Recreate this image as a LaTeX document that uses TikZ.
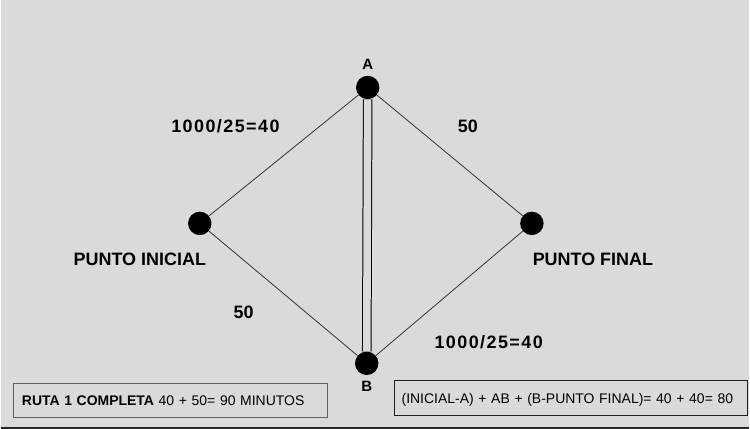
\documentclass[tikz,border=0pt]{standalone}
\usepackage{fontspec}
\setmainfont{Liberation Sans}
\usetikzlibrary{calc,positioning}
\definecolor{fondo}{HTML}{DADADA}
\definecolor{linea}{HTML}{333333}

\begin{document}
\begin{tikzpicture}[x=1pt,y=-1pt,
    vdot/.style={circle, fill=black, minimum size=23.5pt, inner sep=0pt},
    etiq/.style={anchor=base, font=\fontsize{18}{21}\selectfont\bfseries, inner sep=0pt},
    frac/.style={etiq, font=\fontsize{18}{21}\selectfont\bfseries\addfontfeature{LetterSpace=8}},
    letra/.style={anchor=base, font=\fontsize{15}{18}\selectfont\bfseries, inner sep=0pt},
    caja/.style={draw, line width=1pt, minimum height=34pt, inner ysep=0pt,
      align=left, text height=10pt, text depth=0pt,
      font=\fontsize{14}{17}\selectfont},
    arista/.style={draw=linea, line width=0.8pt}]
    \fill[fondo] (0,0) rectangle (750,430);

    % puntos
    \node[vdot] (a) at (367.7,87.7) {};
    \node[vdot] (b) at ($(a)+(-1,276.6)$) {};
    \node[vdot] (ini) at ($(a)+(-168.4,136.3)$) {};
    \node[vdot] (fin) at ($(a)+(164.6,136.3)$) {};

    \node[letra] (la) at ($(a)+(0,-17.7)$) {A};
    \node[letra] (lb) at ($(b)+(0,28.2)$) {B};
    \node[etiq] (lini) at ($(ini)+(-60.1,42)$) {PUNTO INICIAL};
    \node[etiq] (lfin) at ($(fin)+(61.2,42)$) {PUNTO FINAL};

    % pesos
    \node[frac] (p1) at (225,132.7) {1000/25=40};
    \node[etiq] (p2) at (468,132.7) {50};
    \node[etiq] (p3) at (243.3,319.3) {50};
    \node[frac] (p4) at (489,349) {1000/25=40};

    \path[arista] (ini) -- (a) -- (fin);
    \path[arista] (ini) -- (b) -- (fin);
    \draw[line width=1pt, double=fondo, double distance=7.6pt] (a) -- (b);

    % resultados
    \node[caja, draw=black!62, text width=298pt, inner xsep=8pt] (r1) at (170,402)
      {\textbf{RUTA 1 COMPLETA} 40 + 50= 90 MINUTOS};
    \node[caja, draw=black!88, text width=339.6pt, inner xsep=6.7pt,
      minimum height=35pt] (r2) at (571.5,399.5)
      {(INICIAL-A) + AB + (B-PUNTO FINAL)= 40 + 40= 80};

    \draw[line width=2pt, black!85] (0,428.8) -- (750,428.8);
\end{tikzpicture}
\end{document}
